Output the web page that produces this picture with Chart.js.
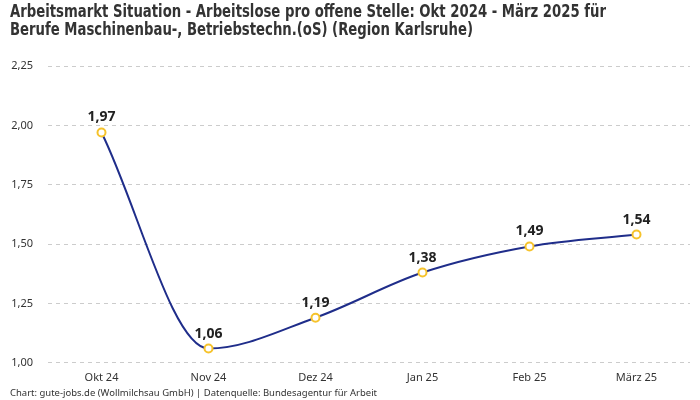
<!DOCTYPE html>
<html>
<head>
<meta charset="utf-8">
<script src="https://cdn.jsdelivr.net/npm/chart.js@4"></script>
<style>
  html, body { margin: 0; padding: 0; background: #fff; }
  #wrap { width: 700px; height: 400px; }
</style>
</head>
<body>
<div id="wrap"><canvas id="out" width="700" height="400"></canvas></div>
<script>
const months = ["Okt 24", "Nov 24", "Dez 24", "Jan 25", "Feb 25", "März 25"];
const ratio = [1.97, 1.06, 1.19, 1.38, 1.49, 1.54];
const yTicks = [1.00, 1.25, 1.50, 1.75, 2.00, 2.25];

const titleLines = [
  "Arbeitsmarkt Situation - Arbeitslose pro offene Stelle: Okt 2024 - März 2025 für",
  "Berufe Maschinenbau-, Betriebstechn.(oS) (Region Karlsruhe)"
];
const footerText = "Chart: gute-jobs.de (Wollmilchsau GmbH) | Datenquelle: Bundesagentur für Arbeit";

const fmt = v => v.toFixed(2).replace(".", ",");

// Titel, Fußzeile und Werte über den Punkten
const decor = {
  id: "decor",
  afterDraw(chart) {
    const ctx = chart.ctx;
    ctx.save();
    ctx.fillStyle = "#333";
    ctx.textAlign = "left";
    ctx.textBaseline = "middle";
    ctx.font = "bold 17px 'DejaVu Sans Condensed', sans-serif";
    // schmale Schrift nachbilden
    ctx.fillText(titleLines[0], 10, 13, 596);
    ctx.fillText(titleLines[1], 10, 31, 463);

    ctx.font = "9.6px 'Noto Sans', sans-serif";
    ctx.fillText(footerText, 10, 393, 367);

    const meta = chart.getDatasetMeta(0);
    ctx.font = "bold 14px 'Noto Sans', sans-serif";
    ctx.fillStyle = "#222";
    ctx.textAlign = "center";
    meta.data.forEach((pt, i) => {
      ctx.fillText(fmt(ratio[i]), pt.x, pt.y - 15);
    });
    ctx.restore();
  }
};

new Chart(document.getElementById("out").getContext("2d"), {
  type: "line",
  data: {
    labels: months,
    datasets: [{
      data: ratio,
      borderColor: "#1f2d8a",
      borderWidth: 2,
      cubicInterpolationMode: "monotone",
      pointRadius: 4,
      pointBorderWidth: 2,
      pointBackgroundColor: "#fff",
      pointBorderColor: "#f6c32c",
      clip: false
    }]
  },
  options: {
    responsive: false,
    animation: false,
    layout: { padding: { top: 66, left: 10, right: 10, bottom: 16 } },
    plugins: {
      legend: { display: false },
      tooltip: { enabled: false }
    },
    scales: {
      x: {
        offset: true,
        grid: { display: false },
        border: { display: false },
        ticks: { color: "#333", font: { size: 11, family: "'Noto Sans', sans-serif" }, padding: 0 }
      },
      y: {
        min: 1,
        max: 2.25,
        afterBuildTicks: scale => { scale.ticks = yTicks.map(v => ({ value: v })); },
        afterFit: scale => { scale.width = 38; },
        grid: { color: "#cccccc", drawTicks: false },
        border: { display: false, dash: [4, 4] },
        ticks: {
          color: "#333",
          font: { size: 11, family: "'Noto Sans', sans-serif" },
          padding: 15,
          callback: v => fmt(v)
        }
      }
    }
  },
  plugins: [decor]
});
</script>
</body>
</html>
